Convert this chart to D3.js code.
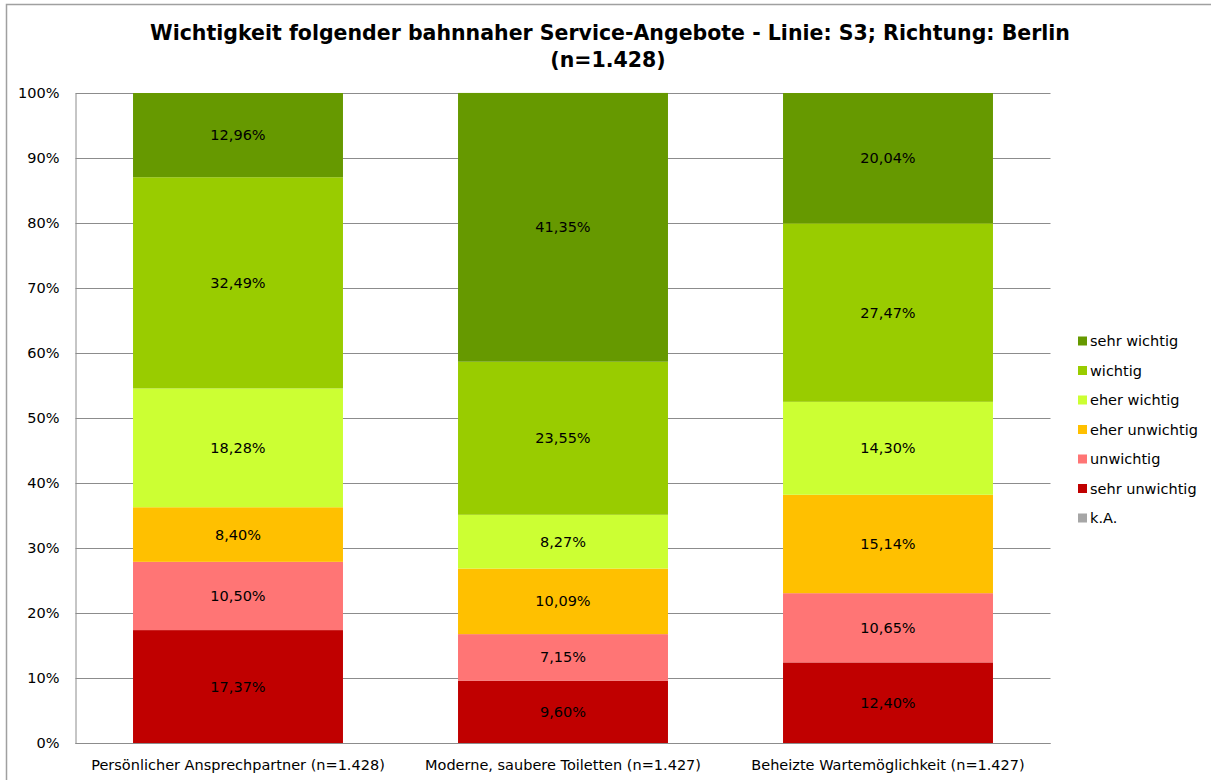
<!DOCTYPE html>
<html>
<head>
<meta charset="utf-8">
<script src="https://cdn.jsdelivr.net/npm/d3@7"></script>
<style>
  html, body { margin: 0; padding: 0; background: #fff; }
  svg { display: block; font-family: "DejaVu Sans", sans-serif; }
</style>
</head>
<body>
<svg id="chart" width="1211" height="780"></svg>
<script>
// Kategorien (x-Achse)
const categories = [
  "Persönlicher Ansprechpartner (n=1.428)",
  "Moderne, saubere Toiletten (n=1.427)",
  "Beheizte Wartemöglichkeit (n=1.427)"
];

// Antwortstufen, von unten nach oben gestapelt
const seriesNames = ["k.A.", "sehr unwichtig", "unwichtig", "eher unwichtig", "eher wichtig", "wichtig", "sehr wichtig"];
const seriesColors = ["#A6A6A6", "#C00000", "#FF7575", "#FFC000", "#CCFF33", "#99CC00", "#669900"];

// Anteile in Prozent je Kategorie
const kA            = [0.00, 0.00, 0.00];
const sehrUnwichtig = [17.37, 9.60, 12.40];
const unwichtig     = [10.50, 7.15, 10.65];
const eherUnwichtig = [8.40, 10.09, 15.14];
const eherWichtig   = [18.28, 8.27, 14.30];
const wichtig       = [32.49, 23.55, 27.47];
const sehrWichtig   = [12.96, 41.35, 20.04];

const yTicks = [0, 10, 20, 30, 40, 50, 60, 70, 80, 90, 100];

const seriesValues = [kA, sehrUnwichtig, unwichtig, eherUnwichtig, eherWichtig, wichtig, sehrWichtig];

const rows = categories.map((c, i) => {
  const r = { category: c };
  seriesNames.forEach((s, j) => { r[s] = seriesValues[j][i]; });
  return r;
});

const svg = d3.select("#chart");
const W = 1211, H = 780;
const plot = { left: 75.5, right: 1050.5, top: 93, bottom: 743 };
const FS = 14.5;

// Rahmen
svg.append("rect")
  .attr("x", 6.5).attr("y", 4.5)
  .attr("width", W + 20).attr("height", H + 20)
  .attr("fill", "none").attr("stroke", "#A0A0A0").attr("stroke-width", 1.5);

const x = d3.scaleBand().domain(categories).range([plot.left, plot.right])
  .paddingInner(0.354).paddingOuter(0.177);
const y = d3.scaleLinear().domain([0, 100]).range([plot.bottom, plot.top]);

// Gitterlinien
svg.append("g").selectAll("line").data(yTicks).join("line")
  .attr("x1", plot.left).attr("x2", plot.right)
  .attr("y1", d => Math.round(y(d)) + 0.5).attr("y2", d => Math.round(y(d)) + 0.5)
  .attr("stroke", "#8C8C8C").attr("stroke-width", 1);

// y-Achse
const yAxis = d3.axisLeft(y).tickValues(yTicks).tickSize(0).tickPadding(16)
  .tickFormat(d => d + "%");
const gy = svg.append("g").attr("transform", `translate(${plot.left},0)`).call(yAxis);
gy.select(".domain").attr("stroke", "#8C8C8C");
gy.selectAll("text").attr("font-size", FS).attr("font-family", "DejaVu Sans").attr("fill", "#000");

// Gestapelte Balken
const stack = d3.stack().keys(seriesNames);
const stacked = stack(rows);
const fmt = v => v.toFixed(2).replace(".", ",") + "%";

const layers = svg.append("g").selectAll("g").data(stacked).join("g")
  .attr("fill", (d, i) => seriesColors[i]);
layers.selectAll("rect").data(d => d.filter(p => p[1] - p[0] > 0)).join("rect")
  .attr("x", p => x(p.data.category))
  .attr("width", x.bandwidth())
  .attr("y", p => y(p[1]))
  .attr("height", p => y(p[0]) - y(p[1]));

// Wertebeschriftungen
const labels = svg.append("g");
stacked.forEach((layer, i) => {
  layer.forEach(p => {
    const v = p[1] - p[0];
    if (v <= 0) return;
    labels.append("text")
      .attr("x", x(p.data.category) + x.bandwidth() / 2)
      .attr("y", y((p[0] + p[1]) / 2))
      .attr("dy", "0.35em")
      .attr("text-anchor", "middle")
      .attr("font-size", FS)
      .attr("fill", "#000")
      .text(fmt(seriesValues[i][categories.indexOf(p.data.category)]));
  });
});

// x-Achse
const xAxis = d3.axisBottom(x).tickSize(0).tickPadding(17);
const gx = svg.append("g").attr("transform", `translate(0,${plot.bottom})`).call(xAxis);
gx.select(".domain").remove();
gx.selectAll("text").attr("font-size", FS).attr("font-family", "DejaVu Sans").attr("fill", "#000");
svg.append("line")
  .attr("x1", plot.left).attr("x2", plot.right)
  .attr("y1", plot.bottom + 0.5).attr("y2", plot.bottom + 0.5)
  .attr("stroke", "#8C8C8C");

// Titel
const title = svg.append("text").attr("text-anchor", "middle")
  .attr("font-size", 20.5).attr("font-weight", "bold").attr("fill", "#000");
title.append("tspan").attr("x", 610).attr("y", 40)
  .text("Wichtigkeit folgender bahnnaher Service-Angebote - Linie: S3; Richtung: Berlin");
title.append("tspan").attr("x", 608).attr("y", 67).text("(n=1.428)");

// Legende (oben: sehr wichtig)
const legendItems = seriesNames.map((n, i) => ({ name: n, color: seriesColors[i] })).reverse();
const legend = svg.append("g").attr("transform", "translate(1078,341)");
const li = legend.selectAll("g").data(legendItems).join("g")
  .attr("transform", (d, i) => `translate(0,${i * 29.5})`);
li.append("rect").attr("x", 0).attr("y", -4.5).attr("width", 9).attr("height", 9)
  .attr("fill", d => d.color);
li.append("text").attr("x", 12).attr("dy", "0.35em")
  .attr("font-size", FS).attr("fill", "#000").text(d => d.name);
</script>
</body>
</html>
